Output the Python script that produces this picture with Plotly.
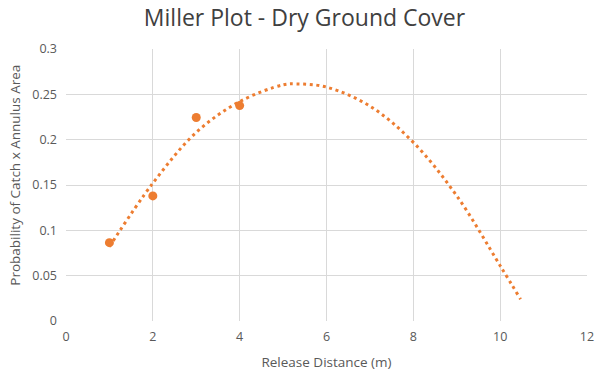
import plotly.graph_objects as go

# Observed data points
release_distance = [1, 2, 3, 4]
catch_area = [0.0864, 0.138, 0.2244, 0.2376]

# Polynomial trendline
trend_x = [1.0, 2.0, 3.0, 4.0, 5.0, 5.3, 6.0, 7.0, 8.0, 9.0, 10.0, 10.47]
trend_y = [0.082, 0.152, 0.208, 0.242, 0.2605, 0.2615, 0.258, 0.237, 0.197, 0.138, 0.061, 0.024]

x_ticks = [0, 2, 4, 6, 8, 10, 12]
y_ticks = [0, 0.05, 0.1, 0.15, 0.2, 0.25, 0.3]
y_tick_text = ["0", "0.05", "0.1", "0.15", "0.2", "0.25", "0.3"]

orange = "#ED7D31"
font_family = "Open Sans, Noto Sans, Liberation Sans, sans-serif"

fig = go.Figure()
fig.add_trace(go.Scatter(
    x=trend_x, y=trend_y, mode="lines", line_shape="spline",
    line=dict(color=orange, width=3, dash="3px,3.6px"),
    hoverinfo="skip", showlegend=False,
))
fig.add_trace(go.Scatter(
    x=release_distance, y=catch_area, mode="markers",
    marker=dict(color=orange, size=9),
    showlegend=False,
))

H = 377
fig.update_layout(
    width=603, height=H,
    margin=dict(l=66, r=9, t=49, b=56),
    paper_bgcolor="white", plot_bgcolor="white",
    font=dict(family=font_family, color="#595959", size=12),
    title=dict(text="Miller Plot - Dry Ground Cover", x=0.505, xanchor="center",
               y=1 - 18 / H, yanchor="middle",
               font=dict(size=23, color="#404040", family=font_family)),
    xaxis=dict(range=[0, 12], tickvals=x_ticks, showgrid=True, gridcolor="#D9D9D9",
               gridwidth=1, zeroline=False, showline=False, ticks="",
               ticklabelstandoff=6,
               title=dict(text="Release Distance (m)", font=dict(size=13.5, color="#595959"),
                          standoff=14),
               tickfont=dict(size=12.5, color="#595959")),
    yaxis=dict(range=[0, 0.3], tickvals=y_ticks, ticktext=y_tick_text, showgrid=True,
               gridcolor="#D9D9D9", gridwidth=1, zeroline=False, showline=False, ticks="",
               ticklabelstandoff=8,
               tickfont=dict(size=12.5, color="#595959")),
)
fig.add_annotation(
    text="Probability of Catch x Annulus Area", textangle=-90,
    xref="paper", yref="paper", x=-(66 - 14) / 528, y=(321 - 175) / 272,
    xanchor="center", yanchor="middle", showarrow=False,
    font=dict(size=13.5, color="#595959", family=font_family),
)

fig.write_html("out.html")
